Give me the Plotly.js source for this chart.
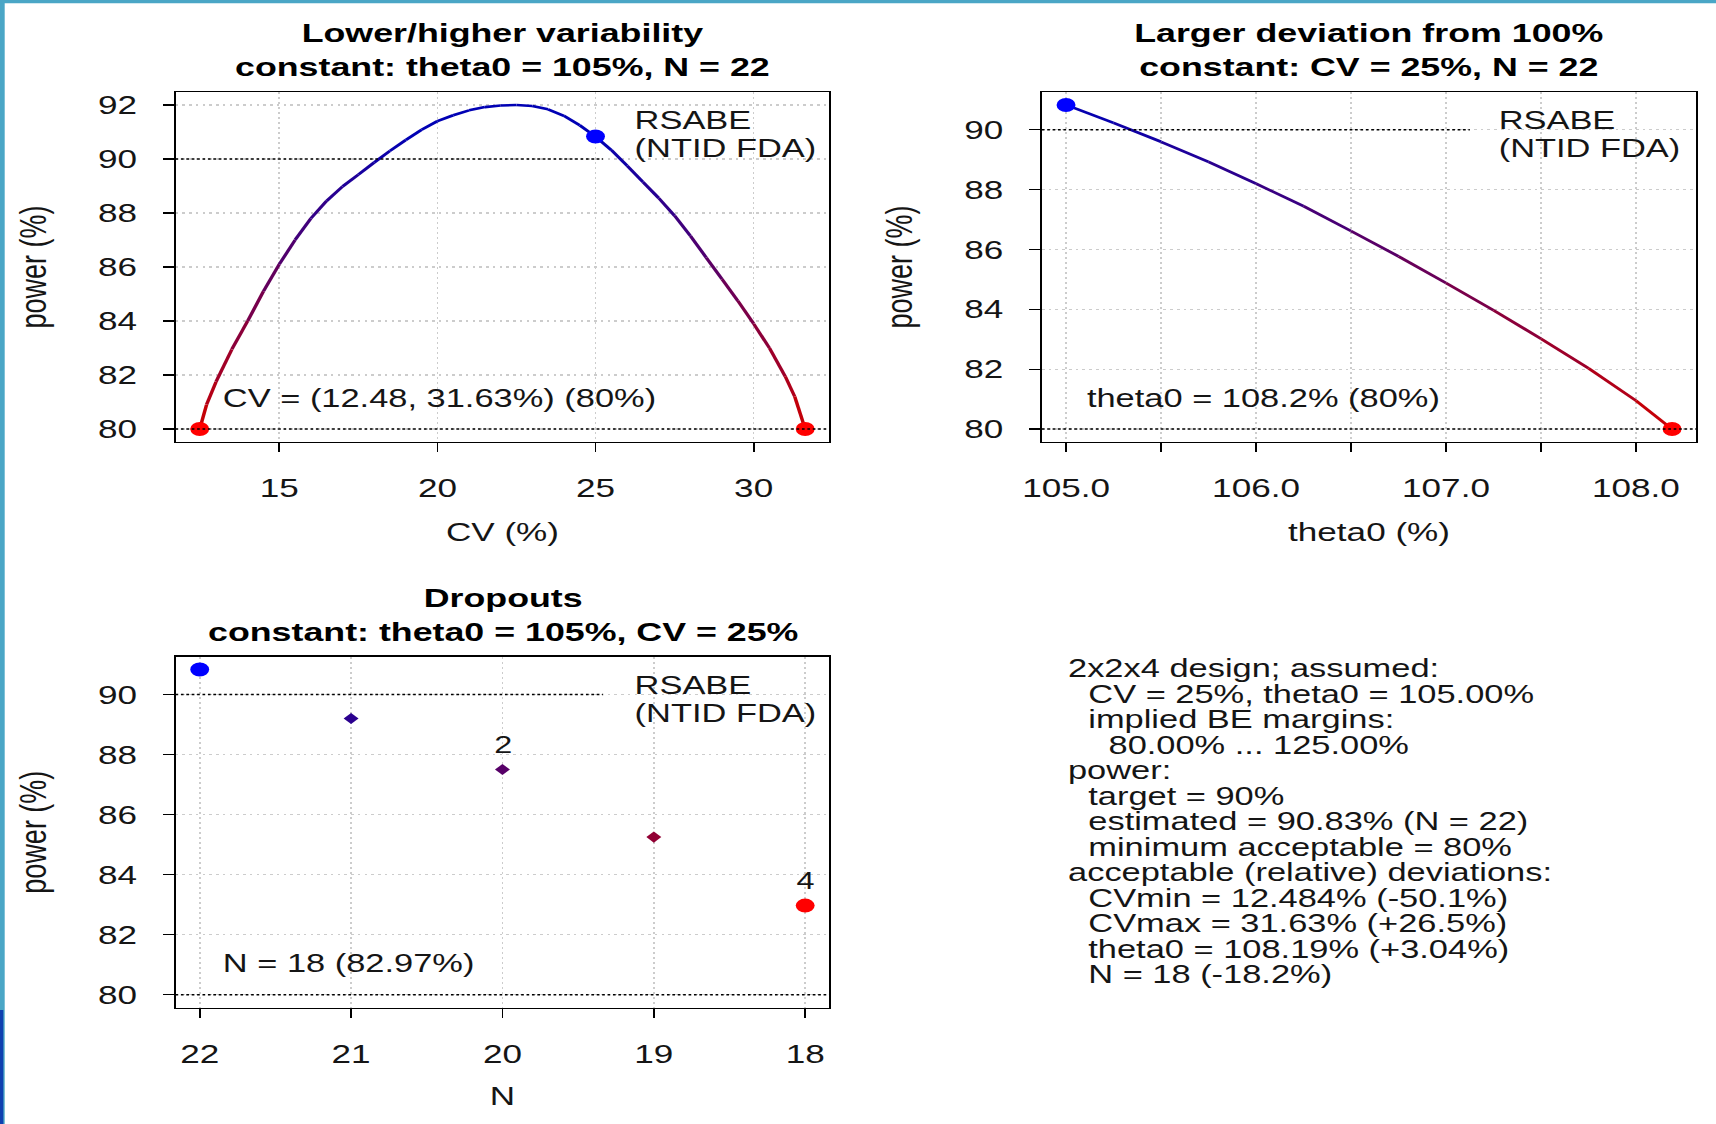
<!DOCTYPE html>
<html><head><meta charset="utf-8">
<script src="https://cdn.plot.ly/plotly-3.0.1.min.js"></script>
<style>
html,body{margin:0;padding:0;background:#fff;overflow:hidden}
#wrap{width:1716px;height:1124px;overflow:hidden;position:relative;background:#fff}
#plot{width:1271px;height:1124px;transform:scaleX(1.350118);transform-origin:0 0;}
</style></head>
<body><div id="wrap"><div id="plot"></div></div>
<script>
// ---------------- data ----------------
const panelTitles = [
  'Lower/higher variability<br>constant: theta0 = 105%, N = 22',
  'Larger deviation from 100%<br>constant: CV = 25%, N = 22',
  'Dropouts<br>constant: theta0 = 105%, CV = 25%'
];
const targetPower = 90;
const minPower = 80;
const powerEst = 90.83;

// panel 1: power vs CV
const cvPct   = [12.484, 12.7, 13.0, 13.5, 14.0, 14.5, 15.0, 15.5, 16.0, 16.5, 17.0, 17.5, 18.0, 18.5, 19.0, 19.5, 20.0, 20.5, 21.0, 21.5, 22.0, 22.5, 23.0, 23.5, 24.0, 24.5, 25.0, 25.5, 26.0, 26.5, 27.0, 27.5, 28.0, 28.5, 29.0, 29.5, 30.0, 30.5, 31.0, 31.3, 31.63];
const cvPower = [80.0, 80.9, 81.75, 82.95, 84.0, 85.1, 86.1, 87.0, 87.8, 88.45, 88.98, 89.42, 89.87, 90.3, 90.7, 91.08, 91.4, 91.62, 91.8, 91.92, 91.98, 92.0, 91.96, 91.84, 91.6, 91.25, 90.83, 90.33, 89.75, 89.15, 88.55, 87.9, 87.15, 86.35, 85.55, 84.75, 83.9, 83.0, 81.95, 81.2, 80.0];
const cvEst = 25;
const cvTicks = [15, 20, 25, 30];
const powerTicks1 = [80, 82, 84, 86, 88, 90, 92];

// panel 2: power vs theta0
const theta0Pct   = [105.0, 105.25, 105.5, 105.75, 106.0, 106.25, 106.5, 106.75, 107.0, 107.25, 107.5, 107.75, 108.0, 108.19];
const theta0Power = [90.83, 90.23, 89.6, 88.93, 88.2, 87.45, 86.62, 85.77, 84.88, 83.97, 83.02, 82.03, 80.95, 80.0];
const thetaTicks    = [105.0, 105.5, 106.0, 106.5, 107.0, 107.5, 108.0];
const thetaTickText = ['105.0', '', '106.0', '', '107.0', '', '108.0'];

// panel 3: power vs N (dropouts)
const nSubjects = [22, 21, 20, 19, 18];
const nPower    = [90.83, 89.2, 87.5, 85.25, 82.97];
const nDropLabel = ['', '', '2', '', '4'];
const nTicks = [22, 21, 20, 19, 18];
const powerTicks = [80, 82, 84, 86, 88, 90];

const legendText = ['RSABE', '(NTID FDA)'];
const infoLines = [
  '2x2x4 design; assumed:',
  'CV = 25%, theta0 = 105.00%',
  'implied BE margins:',
  '80.00% ... 125.00%',
  'power:',
  'target = 90%',
  'estimated = 90.83% (N = 22)',
  'minimum acceptable = 80%',
  'acceptable (relative) deviations:',
  'CVmin = 12.484% (-50.1%)',
  'CVmax = 31.63% (+26.5%)',
  'theta0 = 108.19% (+3.04%)',
  'N = 18 (-18.2%)'
];
const infoIndent = [0, 1, 1, 2, 0, 1, 1, 1, 0, 1, 1, 1, 1];

// ---------------- helpers ----------------
const FONT = 'Liberation Sans, Arial, Helvetica, sans-serif';
const W = 1271, H = 1124, FW = 1716;
const px = x => x / FW;
const py = y => 1 - y / H;

function powerColor(p, lo, hi) {
  let f = (p - lo) / (hi - lo);
  f = Math.max(0, Math.min(1, f));
  return `rgb(${Math.round(205 * (1 - f))},0,${Math.round(180 * f)})`;
}
function gradientTraces(xs, ys, xa, ya, lo, hi) {
  const out = [];
  for (let i = 0; i < xs.length - 1; i++) {
    out.push({
      type: 'scatter', mode: 'lines', xaxis: xa, yaxis: ya,
      x: [xs[i], xs[i + 1]], y: [ys[i], ys[i + 1]],
      line: {color: powerColor((ys[i] + ys[i + 1]) / 2, lo, hi), width: 2.6},
      hoverinfo: 'skip', showlegend: false
    });
  }
  return out;
}
function rng(vals, rev) {
  const lo = Math.min(...vals), hi = Math.max(...vals), d = (hi - lo) * 0.04;
  return rev ? [hi + d, lo - d] : [lo - d, hi + d];
}
function bigMarker(x, y, color, xa, ya) {
  return {type: 'scatter', mode: 'markers', xaxis: xa, yaxis: ya, x: x, y: y,
    marker: {color: color, size: 14, symbol: 'circle'}, showlegend: false, hoverinfo: 'x+y'};
}

// ---------------- traces ----------------
let traces = [];
traces = traces.concat(gradientTraces(cvPct, cvPower, 'x', 'y', minPower, powerEst));
traces.push(bigMarker([cvEst], [powerEst], '#0000ff', 'x', 'y'));
traces.push(bigMarker([cvPct[0], cvPct[cvPct.length - 1]], [cvPower[0], cvPower[cvPower.length - 1]], '#ff0000', 'x', 'y'));

traces = traces.concat(gradientTraces(theta0Pct, theta0Power, 'x2', 'y2', minPower, powerEst));
traces.push(bigMarker([theta0Pct[0]], [theta0Power[0]], '#0000ff', 'x2', 'y2'));
traces.push(bigMarker([theta0Pct[theta0Pct.length - 1]], [theta0Power[theta0Power.length - 1]], '#ff0000', 'x2', 'y2'));

const nLo = Math.min(...nPower), nHi = Math.max(...nPower);
traces.push({type: 'scatter', mode: 'markers', xaxis: 'x3', yaxis: 'y3',
  x: nSubjects.slice(1, -1), y: nPower.slice(1, -1),
  marker: {symbol: 'diamond', size: 8.5, color: nPower.slice(1, -1).map(p => powerColor(p, nLo, nHi))},
  showlegend: false});
traces.push(bigMarker([nSubjects[0]], [nPower[0]], '#0000ff', 'x3', 'y3'));
traces.push(bigMarker([nSubjects[nSubjects.length - 1]], [nPower[nPower.length - 1]], '#ff0000', 'x3', 'y3'));

// ---------------- axes ----------------
const tickFont = {family: FONT, size: 26, color: '#151515'};
const titleFont = {family: FONT, size: 26, color: '#151515'};
const yTitleFont = {family: FONT, size: 27, color: '#151515'};
function axis(extra) {
  return Object.assign({
    showline: true, mirror: true, linecolor: '#000', linewidth: 1.3,
    ticks: 'outside', tickcolor: '#000', tickwidth: 1.3,
    showgrid: true, gridcolor: '#cccccc', gridwidth: 1.2, griddash: '2px,3px',
    zeroline: false, tickfont: tickFont, tickmode: 'array', fixedrange: true
  }, extra);
}
const xDomL = [px(175.5), px(829.4)], xDomR = [px(1041.8), px(1696.3)];
const yDomTop = [py(442), py(92)], yDomBot = [py(1007.8), py(656.5)];

const layout = {
  width: W, height: H, margin: {l: 0, r: 0, t: 0, b: 0},
  paper_bgcolor: '#fff', plot_bgcolor: '#fff', showlegend: false,
  font: {family: FONT, color: '#151515'},
  xaxis: axis({domain: xDomL, anchor: 'y', range: rng(cvPct), tickvals: cvTicks, ticklen: 9, ticklabelstandoff: 14,
    title: {text: 'CV (%)', font: titleFont, standoff: 19.5}}),
  yaxis: axis({domain: yDomTop, anchor: 'x', range: rng(cvPower.concat([minPower])), tickvals: powerTicks1, ticklen: 8, ticklabelstandoff: 14,
    title: {text: 'power (%)', font: yTitleFont, standoff: 30}}),
  xaxis2: axis({domain: xDomR, anchor: 'y2', range: rng(theta0Pct), tickvals: thetaTicks, ticktext: thetaTickText, ticklen: 9, ticklabelstandoff: 14,
    title: {text: 'theta0 (%)', font: titleFont, standoff: 19.5}}),
  yaxis2: axis({domain: yDomTop, anchor: 'x2', range: rng(theta0Power.concat([minPower])), tickvals: powerTicks, ticklen: 8, ticklabelstandoff: 14,
    title: {text: 'power (%)', font: yTitleFont, standoff: 30}}),
  xaxis3: axis({domain: xDomL, anchor: 'y3', range: rng(nSubjects, true), tickvals: nTicks, ticklen: 9, ticklabelstandoff: 14,
    title: {text: 'N', font: titleFont, standoff: 18.5}}),
  yaxis3: axis({domain: yDomBot, anchor: 'x3', range: rng(nPower.concat([minPower])), tickvals: powerTicks, ticklen: 8, ticklabelstandoff: 14,
    title: {text: 'power (%)', font: yTitleFont, standoff: 30}}),
  shapes: [], annotations: []
};

// reference lines (target and minimum power)
const dotLine = {color: '#000', width: 1.6, dash: '2px,2px'};
[['x', 'y'], ['x2', 'y2'], ['x3', 'y3']].forEach(([xa, ya]) => {
  layout.shapes.push({type: 'line', xref: xa + ' domain', yref: ya, x0: 0, x1: 0.654, y0: targetPower, y1: targetPower, line: dotLine, layer: 'above'});
  layout.shapes.push({type: 'line', xref: xa + ' domain', yref: ya, x0: 0, x1: 1, y0: minPower, y1: minPower, line: dotLine, layer: 'above'});
});
// screenshot frame strips
layout.shapes.push({type: 'rect', xref: 'paper', yref: 'paper', x0: 0, x1: px(4.7), y0: 0, y1: 1, fillcolor: 'rgb(74,166,198)', line: {width: 0}, layer: 'above'});
layout.shapes.push({type: 'rect', xref: 'paper', yref: 'paper', x0: 0, x1: 1, y0: py(3.3), y1: 1, fillcolor: 'rgb(74,166,198)', line: {width: 0}, layer: 'above'});
layout.shapes.push({type: 'rect', xref: 'paper', yref: 'paper', x0: 0, x1: px(3.3), y0: 0, y1: py(1010), fillcolor: 'rgb(16,64,176)', line: {width: 0}, layer: 'above'});

function txt(text, x, y, size, opts) {
  return Object.assign({text: text, xref: 'paper', yref: 'paper', x: x, y: y, showarrow: false,
    xanchor: 'left', yanchor: 'middle', font: {family: FONT, size: size, color: '#151515'}}, opts || {});
}
// panel titles
const titleCenters = [[502.5, 50.4], [1369, 50.4], [502.5, 615.1]];
panelTitles.forEach((t, i) => {
  layout.annotations.push(txt('<b>' + t.replace('<br>', '</b><br><b>') + '</b>', px(titleCenters[i][0]), py(titleCenters[i][1]), 26.5,
    {xanchor: 'center', font: {family: FONT, size: 26.5, color: '#000'}}));
});
// legend text "RSABE (NTID FDA)"
[[631.7, 120], [1495.3, 120], [631.7, 685]].forEach(([lx, ly]) => {
  legendText.forEach((t, j) => layout.annotations.push(txt(t, px(lx), py(ly + j * 27.8), 25.5)));
});
// result labels
layout.annotations.push(txt(`CV = (${cvPct[0].toFixed(2)}, ${cvPct[cvPct.length - 1].toFixed(2)}%) (${minPower}%)`, px(219.8), py(398.4), 25.5));
layout.annotations.push(txt(`theta0 = ${theta0Pct[theta0Pct.length - 1].toFixed(1)}% (${minPower}%)`, px(1084.5), py(398.4), 25.5));
layout.annotations.push(txt(`N = ${nSubjects[nSubjects.length - 1]} (${nPower[nPower.length - 1].toFixed(2)}%)`, px(219.8), py(963), 25.5));
// dropout counts
nDropLabel.forEach((lab, i) => {
  if (lab) layout.annotations.push({text: lab, xref: 'x3', yref: 'y3', x: nSubjects[i], y: nPower[i], yshift: 25,
    showarrow: false, xanchor: 'center', yanchor: 'middle', font: {family: FONT, size: 24, color: '#151515'}});
});
// info text block
infoLines.forEach((t, i) => {
  layout.annotations.push(txt(t, px(1064.8 + infoIndent[i] * 20.8), py(668 + i * 25.5), 25.5));
});

Plotly.newPlot('plot', traces, layout, {staticPlot: true, displayModeBar: false});
</script></body></html>
